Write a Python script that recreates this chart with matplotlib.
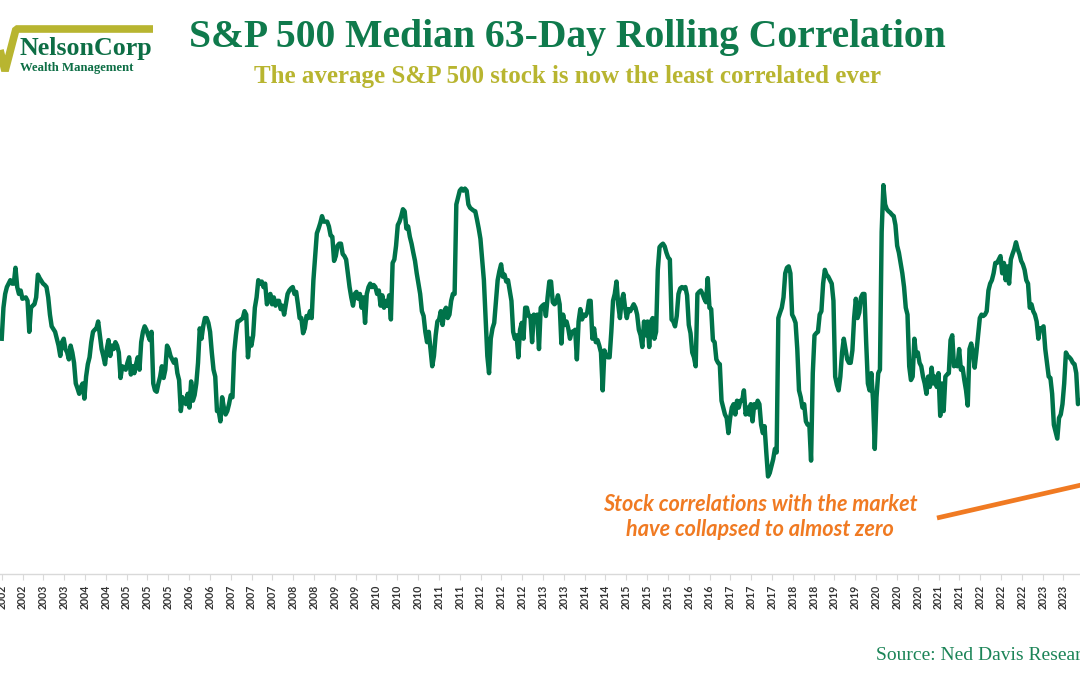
import numpy as np
import matplotlib
matplotlib.use("Agg")
import matplotlib.pyplot as plt
from matplotlib.lines import Line2D

# ---------------- data ----------------
corr_2002_2012 = [
    0.355, 0.400, 0.420, 0.430, 0.435, 0.440, 0.435, 0.435, 0.458, 0.430,
    0.420, 0.425, 0.413, 0.414, 0.415, 0.410, 0.365, 0.400, 0.403, 0.405,
    0.415, 0.448, 0.443, 0.439, 0.435, 0.433, 0.430, 0.415, 0.390, 0.373,
    0.369, 0.365, 0.355, 0.345, 0.330, 0.350, 0.355, 0.340, 0.335, 0.325,
    0.345, 0.335, 0.320, 0.290, 0.283, 0.275, 0.285, 0.290, 0.268, 0.300,
    0.318, 0.328, 0.350, 0.365, 0.368, 0.370, 0.380, 0.360, 0.340, 0.330,
    0.318, 0.340, 0.353, 0.330, 0.345, 0.340, 0.350, 0.345, 0.335, 0.298,
    0.315, 0.313, 0.310, 0.320, 0.328, 0.303, 0.315, 0.305, 0.318, 0.328,
    0.310, 0.350, 0.365, 0.373, 0.368, 0.360, 0.353, 0.365, 0.290, 0.280,
    0.278, 0.290, 0.300, 0.315, 0.298, 0.310, 0.345, 0.340, 0.330, 0.325,
    0.320, 0.325, 0.305, 0.295, 0.250, 0.270, 0.265, 0.260, 0.275, 0.255,
    0.293, 0.265, 0.273, 0.290, 0.320, 0.370, 0.355, 0.373, 0.385, 0.385,
    0.378, 0.365, 0.335, 0.310, 0.300, 0.250, 0.250, 0.235, 0.270, 0.255,
    0.245, 0.250, 0.260, 0.273, 0.270, 0.335, 0.360, 0.380, 0.381, 0.383,
    0.385, 0.395, 0.390, 0.328, 0.355, 0.345, 0.360, 0.400, 0.415, 0.440,
    0.435, 0.438, 0.430, 0.435, 0.405, 0.413, 0.420, 0.405, 0.415, 0.403,
    0.410, 0.410, 0.398, 0.403, 0.390, 0.405, 0.420, 0.425, 0.428, 0.430,
    0.420, 0.423, 0.405, 0.385, 0.385, 0.363, 0.370, 0.388, 0.385, 0.395,
    0.385, 0.440, 0.475, 0.508, 0.515, 0.523, 0.533, 0.525, 0.525, 0.525,
    0.518, 0.505, 0.503, 0.468, 0.475, 0.490, 0.493, 0.493, 0.478, 0.475,
    0.470, 0.450, 0.430, 0.415, 0.403, 0.420, 0.423, 0.413, 0.420, 0.400,
    0.415, 0.378, 0.420, 0.430, 0.435, 0.430, 0.433, 0.430, 0.420, 0.425,
    0.403, 0.418, 0.400, 0.410, 0.403, 0.418, 0.383, 0.465, 0.470, 0.490,
    0.520, 0.525, 0.533, 0.543, 0.540, 0.515, 0.518, 0.503, 0.493, 0.480,
    0.468, 0.450, 0.435, 0.420, 0.395, 0.388, 0.365, 0.350, 0.365, 0.340,
    0.315, 0.330, 0.360, 0.380, 0.383, 0.395, 0.375, 0.395, 0.400, 0.385,
    0.390, 0.410, 0.420, 0.420, 0.550, 0.560, 0.570, 0.573, 0.570, 0.573,
    0.570, 0.550, 0.545, 0.543, 0.541, 0.540, 0.528, 0.515, 0.500, 0.470,
    0.440, 0.385, 0.330, 0.305, 0.355, 0.370, 0.378, 0.410, 0.440, 0.453,
    0.463, 0.445, 0.448, 0.438, 0.440, 0.425, 0.410, 0.365, 0.355, 0.360,
    0.328, 0.368, 0.378, 0.355, 0.400, 0.400, 0.388, 0.388, 0.350, 0.390,
    0.383, 0.390, 0.340,
]

corr_2013_2023 = [
    0.400, 0.403, 0.405, 0.388, 0.415, 0.438, 0.438, 0.408, 0.405, 0.408,
    0.418, 0.405, 0.348, 0.390, 0.375, 0.380, 0.370, 0.355, 0.365, 0.365,
    0.368, 0.325, 0.380, 0.398, 0.383, 0.390, 0.388, 0.393, 0.410, 0.410,
    0.355, 0.370, 0.350, 0.353, 0.345, 0.335, 0.280, 0.338, 0.330, 0.328,
    0.328, 0.365, 0.410, 0.420, 0.438, 0.405, 0.385, 0.410, 0.420, 0.400,
    0.385, 0.398, 0.395, 0.400, 0.405, 0.400, 0.390, 0.368, 0.360, 0.343,
    0.380, 0.360, 0.380, 0.343, 0.380, 0.385, 0.355, 0.365, 0.455, 0.488,
    0.491, 0.493, 0.489, 0.480, 0.473, 0.470, 0.383, 0.380, 0.373, 0.388,
    0.420, 0.428, 0.430, 0.428, 0.430, 0.418, 0.375, 0.363, 0.335, 0.328,
    0.315, 0.420, 0.423, 0.425, 0.420, 0.413, 0.408, 0.443, 0.400, 0.398,
    0.353, 0.350, 0.325, 0.320, 0.318, 0.265, 0.255, 0.245, 0.240, 0.218,
    0.240, 0.255, 0.260, 0.245, 0.265, 0.255, 0.265, 0.265, 0.280, 0.245,
    0.255, 0.245, 0.260, 0.235, 0.260, 0.255, 0.265, 0.260, 0.230, 0.218,
    0.228, 0.190, 0.155, 0.160, 0.170, 0.180, 0.195, 0.190, 0.385, 0.393,
    0.400, 0.415, 0.450, 0.458, 0.460, 0.450, 0.390, 0.385, 0.378, 0.340,
    0.280, 0.270, 0.255, 0.260, 0.235, 0.230, 0.230, 0.178, 0.305, 0.360,
    0.363, 0.365, 0.390, 0.395, 0.435, 0.455, 0.448, 0.445, 0.440, 0.435,
    0.410, 0.300, 0.288, 0.280, 0.300, 0.335, 0.355, 0.340, 0.325, 0.320,
    0.320, 0.338, 0.385, 0.413, 0.385, 0.393, 0.415, 0.420, 0.420, 0.350,
    0.290, 0.280, 0.305, 0.265, 0.195, 0.270, 0.305, 0.310, 0.510, 0.578,
    0.550, 0.543, 0.540, 0.538, 0.535, 0.533, 0.520, 0.490, 0.480, 0.465,
    0.450, 0.430, 0.400, 0.390, 0.315, 0.295, 0.300, 0.355, 0.330, 0.335,
    0.320, 0.315, 0.300, 0.290, 0.275, 0.300, 0.285, 0.313, 0.290, 0.300,
    0.285, 0.305, 0.243, 0.290, 0.250, 0.300, 0.303, 0.305, 0.353, 0.360,
    0.315, 0.320, 0.315, 0.340, 0.310, 0.313, 0.295, 0.280, 0.258, 0.340,
    0.348, 0.335, 0.313, 0.335, 0.360, 0.385, 0.390, 0.388, 0.390, 0.395,
    0.425, 0.435, 0.440, 0.450, 0.465, 0.465, 0.470, 0.475, 0.450, 0.465,
    0.440, 0.460, 0.435, 0.470, 0.478, 0.485, 0.495, 0.485, 0.478, 0.468,
    0.463, 0.455, 0.440, 0.435, 0.400, 0.405, 0.395, 0.390, 0.380, 0.355,
    0.370, 0.370, 0.373, 0.340, 0.320, 0.300, 0.298, 0.275, 0.230, 0.220,
    0.210, 0.240, 0.245, 0.260, 0.290, 0.335, 0.330, 0.328, 0.325, 0.320,
    0.318, 0.305, 0.260, 0.265,
]

tick_labels = [
    "2002", "2002", "2003", "2003", "2004", "2004", "2005", "2005", "2005",
    "2006", "2006", "2007", "2007", "2007", "2008", "2008", "2009", "2009",
    "2010", "2010", "2010", "2011", "2011", "2012", "2012", "2012",
    "2013", "2013", "2014", "2014", "2015", "2015", "2015", "2016", "2016",
    "2017", "2017", "2017", "2018", "2018", "2019", "2019", "2020", "2020",
    "2020", "2021", "2021", "2022", "2022", "2022", "2023", "2023",
]

title = "S&P 500 Median 63-Day Rolling Correlation"
subtitle = "The average S&P 500 stock is now the least correlated ever"
note = "Stock correlations with the market\nhave collapsed to almost zero"
source = "Source: Ned Davis Research"

# ---------------- style ----------------
GREEN = "#00734A"
TITLE_GREEN = "#0F7A4C"
OLIVE = "#B8B530"
ORANGE = "#F07A22"
W, H = 1080, 675

series = np.array(corr_2002_2012 + corr_2013_2023)
obs = np.arange(1, len(series) + 1)

fig = plt.figure(figsize=(W / 100, H / 100), dpi=100)
fig.patch.set_facecolor("white")

ax = fig.add_axes([0, (H - 574) / H, 1, (574 - 150) / H])
ax.plot(obs, series, color=GREEN, lw=3.2, solid_joinstyle="round")
ax.set_xlim(0, W / 1.722)
ax.set_ylim(0.0134, 0.629)

tick_pos = 0.987 + 12.09 * np.arange(len(tick_labels))
ax.set_xticks(tick_pos)
ax.set_xticklabels(tick_labels, rotation=90, fontsize=7.6, fontweight="bold",
                   family="Lato", color="#333333")
ax.tick_params(axis="x", length=4, width=0.8, color="#D9D9D9", pad=4)
ax.set_yticks([])
for s in ["top", "left", "right"]:
    ax.spines[s].set_visible(False)
ax.spines["bottom"].set_color("#D9D9D9")
ax.spines["bottom"].set_linewidth(1.0)
ax.set_facecolor("none")


def fx(px):
    return px / W


def fy(py):
    return 1 - py / H


# titles
fig.text(fx(567), fy(38), title, ha="center", va="center", family="Liberation Serif",
         fontweight="bold", fontsize=28.5, color=TITLE_GREEN)
fig.text(fx(567), fy(76), subtitle, ha="center", va="center", family="Liberation Serif",
         fontweight="bold", fontsize=18, color=OLIVE)

# logo
fig.add_artist(Line2D([fx(0), fx(5), fx(16), fx(153)],
                      [fy(50), fy(71), fy(29), fy(29)],
                      color=OLIVE, lw=5.5, solid_joinstyle="bevel", solid_capstyle="butt"))
fig.text(fx(20), fy(49), "NelsonCorp", ha="left", va="center", family="Liberation Serif",
         fontweight="bold", fontsize=18.7, color="#0D6E45")
fig.text(fx(20), fy(68), "Wealth Management", ha="left", va="center",
         family="Liberation Serif", fontweight="bold", fontsize=9.2, color="#0D6E45")

# annotation
fig.text(fx(760), fy(517), note, ha="center", va="center", family="Lato",
         fontstyle="italic", fontweight="bold", fontsize=15.6, color=ORANGE,
         linespacing=1.2)
fig.add_artist(Line2D([fx(937), fx(1090)], [fy(518), fy(483)], color=ORANGE,
                      lw=3.4, solid_capstyle="butt"))

# source
fig.text(fx(876), fy(655), source, ha="left", va="center", family="Liberation Serif",
         fontsize=14, color="#1B8457")

fig.savefig("out.png", dpi=100)
